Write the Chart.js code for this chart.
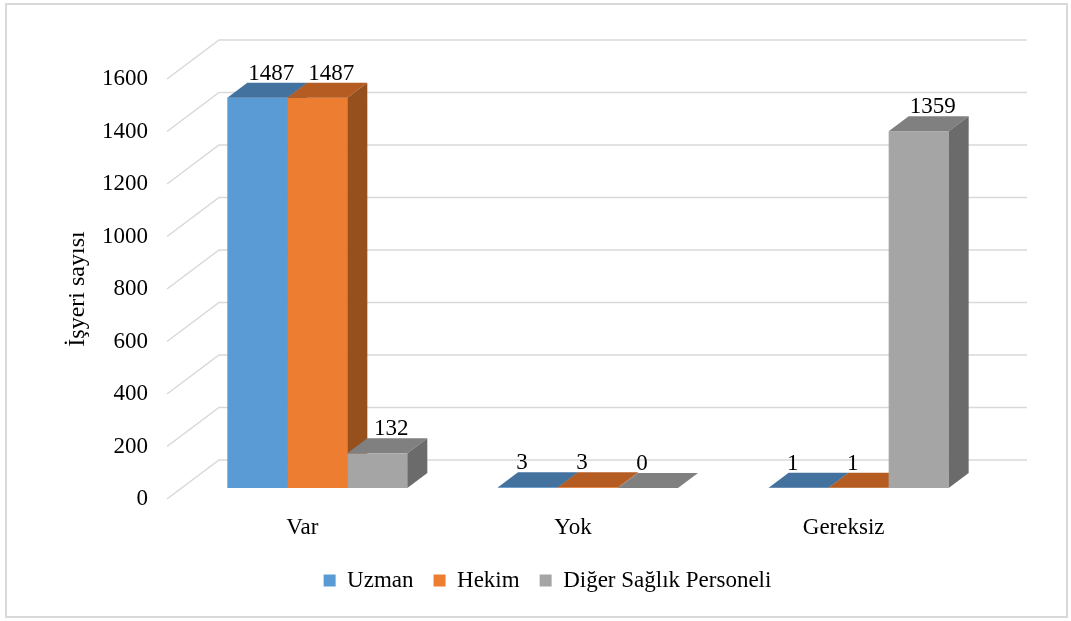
<!DOCTYPE html>
<html>
<head>
<meta charset="utf-8">
<script src="https://cdn.jsdelivr.net/npm/chart.js@4"></script>
<style>
  html, body { margin: 0; padding: 0; background: #fff; }
</style>
</head>
<body>
<canvas id="myChart" width="1071" height="621"></canvas>
<script>
var categories = ['Var', 'Yok', 'Gereksiz'];
var uzman = [1487, 3, 1];
var hekim = [1487, 3, 1];
var diger = [132, 0, 1359];
var seriesNames = ['Uzman', 'Hekim', 'Diğer Sağlık Personeli'];
var yMin = 0, yMax = 1600, yStep = 200;
var yTitle = 'İşyeri sayısı';

var FONT = 'Liberation Serif, Times New Roman, serif';

// oblique 3d offsets (px)
var FRONT = { dx: 15, dy: -11 };   // front edge -> bar front plane
var DEPTH = { dx: 20, dy: -15 };   // bar depth
var WALL = { dx: 52, dy: -39 };    // front edge -> back wall

var shades = [
  { front: '#5B9BD5', top: '#44729E', side: '#3C6690' },
  { front: '#ED7D31', top: '#B45C22', side: '#96501D' },
  { front: '#A5A5A5', top: '#808080', side: '#6B6B6B' }
];

function poly(ctx, pts, color) {
  ctx.fillStyle = color;
  ctx.beginPath();
  ctx.moveTo(pts[0][0], pts[0][1]);
  for (var k = 1; k < pts.length; k++) ctx.lineTo(pts[k][0], pts[k][1]);
  ctx.closePath();
  ctx.fill();
}

var bars3d = {
  id: 'bars3d',
  afterLayout: function(chart) {
    // legend sits a bit right of the plot centre, like the original
    chart.legend.left += 58;
    chart.legend.right += 58;
  },
  beforeDraw: function(chart) {
    var ctx = chart.ctx;
    ctx.save();
    ctx.fillStyle = '#fff';
    ctx.fillRect(0, 0, chart.width, chart.height);
    ctx.strokeStyle = '#d9d9d9';
    ctx.lineWidth = 2;
    ctx.strokeRect(6, 4, 1061, 613);
    ctx.restore();
  },
  beforeDatasetsDraw: function(chart) {
    var ctx = chart.ctx, a = chart.chartArea, ys = chart.scales.y;
    ctx.save();
    // back wall grid + left wall diagonals
    ctx.strokeStyle = '#d9d9d9';
    ctx.lineWidth = 1.5;
    ys.ticks.forEach(function(t) {
      var py = ys.getPixelForValue(t.value);
      ctx.beginPath();
      ctx.moveTo(a.left, py);
      ctx.lineTo(a.left + WALL.dx, py + WALL.dy);
      ctx.lineTo(a.right + WALL.dx - 4, py + WALL.dy);
      ctx.stroke();
    });
    // bars, category by category, left to right
    var n = chart.data.datasets.length;
    for (var i = 0; i < categories.length; i++) {
      for (var d = 0; d < n; d++) {
        var el = chart.getDatasetMeta(d).data[i];
        var p = el.getProps(['x', 'y', 'base', 'width'], true);
        var l = p.x - p.width / 2 + FRONT.dx, r = p.x + p.width / 2 + FRONT.dx;
        var t = p.y + FRONT.dy, b = p.base + FRONT.dy;
        ctx.fillStyle = shades[d].front;
        ctx.fillRect(l, t, r - l, b - t);
        poly(ctx, [[l, t], [r, t], [r + DEPTH.dx, t + DEPTH.dy], [l + DEPTH.dx, t + DEPTH.dy]], shades[d].top);
        poly(ctx, [[r, t], [r + DEPTH.dx, t + DEPTH.dy], [r + DEPTH.dx, b + DEPTH.dy], [r, b]], shades[d].side);
      }
    }
    ctx.restore();
    return false;
  },
  afterDraw: function(chart) {
    var ctx = chart.ctx;
    ctx.save();
    ctx.font = '23px ' + FONT;
    ctx.fillStyle = '#000';
    ctx.textAlign = 'center';
    ctx.textBaseline = 'alphabetic';
    chart.data.datasets.forEach(function(ds, d) {
      chart.getDatasetMeta(d).data.forEach(function(el, i) {
        var v = ds.data[i];
        var x = el.x + FRONT.dx + (v > 100 ? 14 : -6);
        var y = el.y + FRONT.dy - 18;
        ctx.fillText(String(v), x, y);
      });
    });
    ctx.restore();
  }
};

var ctx = document.getElementById('myChart');
var myChart = new Chart(ctx, {
  type: 'bar',
  data: {
    labels: categories,
    datasets: [
      { label: seriesNames[0], data: uzman, backgroundColor: shades[0].front },
      { label: seriesNames[1], data: hekim, backgroundColor: shades[1].front },
      { label: seriesNames[2], data: diger, backgroundColor: shades[2].front }
    ]
  },
  options: {
    responsive: false,
    animation: false,
    devicePixelRatio: 1,
    categoryPercentage: 0.665,
    barPercentage: 1,
    layout: { padding: { top: 79, left: 0, right: 92, bottom: 19 } },
    plugins: {
      tooltip: { enabled: false },
      legend: {
        position: 'bottom',
        labels: {
          boxWidth: 12,
          boxHeight: 12,
          padding: 20,
          color: '#000',
          font: { family: FONT, size: 23 }
        }
      }
    },
    scales: {
      x: {
        grid: { display: false, drawTicks: false },
        border: { display: false },
        ticks: { color: '#000', padding: 15, font: { family: FONT, size: 23 } },
        afterFit: function(s) { s.height = 50; }
      },
      y: {
        min: yMin,
        max: yMax,
        grid: { display: false, drawTicks: false },
        border: { display: false },
        ticks: {
          stepSize: yStep,
          color: '#000',
          padding: 19,
          font: { family: FONT, size: 23 },
          callback: function(v) { return String(v); }
        },
        title: {
          display: true,
          text: yTitle,
          color: '#000',
          padding: { top: 63, bottom: 0 },
          font: { family: FONT, size: 24 }
        },
        afterFit: function(s) { s.width = 167; }
      }
    }
  },
  plugins: [bars3d]
});
</script>
</body>
</html>
